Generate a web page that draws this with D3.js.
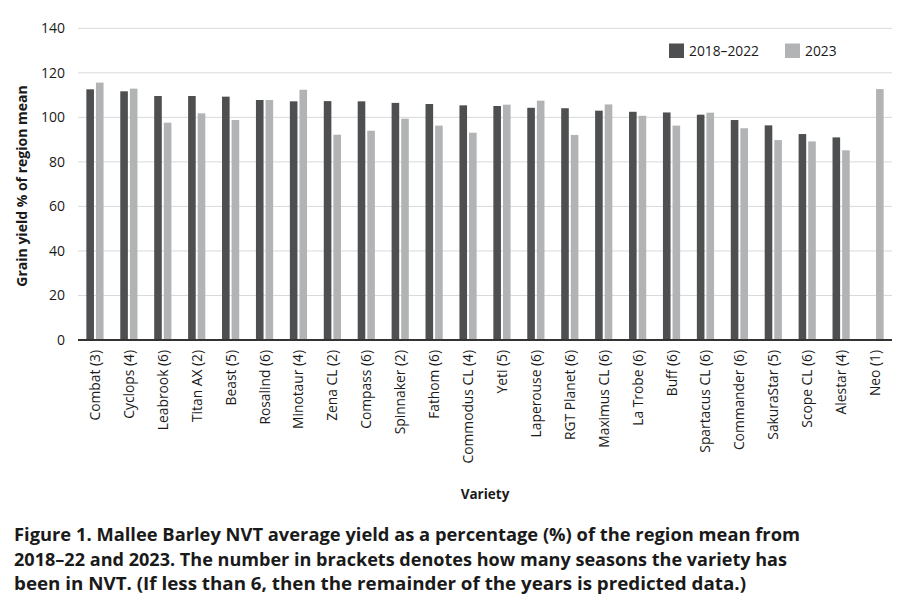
<!DOCTYPE html>
<html><head><meta charset="utf-8">
<script src="https://cdn.jsdelivr.net/npm/d3@7"></script>
<style>
body{margin:0;background:#fff;}
svg text{font-family:"Open Sans","Noto Sans",sans-serif;fill:#1a1a1a;}
</style></head>
<body><svg id="c" width="906" height="609"></svg>
<script>
const varieties = ["Combat (3)","Cyclops (4)","Leabrook (6)","Titan AX (2)","Beast (5)","Rosalind (6)","Minotaur (4)","Zena CL (2)","Compass (6)","Spinnaker (2)","Fathom (6)","Commodus CL (4)","Yeti (5)","Laperouse (6)","RGT Planet (6)","Maximus CL (6)","La Trobe (6)","Buff (6)","Spartacus CL (6)","Commander (6)","SakuraStar (5)","Scope CL (6)","Alestar (4)","Neo (1)"];
const series = ["2018–2022","2023"];
const yield1822 = [112.6,111.7,109.6,109.6,109.3,107.8,107.2,107.3,107.2,106.5,106.0,105.4,105.1,104.3,104.1,103.0,102.5,102.2,101.2,98.8,96.4,92.5,91.0,null];
const yield2023 = [115.6,112.9,97.6,101.8,98.8,107.8,112.4,92.2,94.0,99.4,96.3,93.1,105.7,107.5,92.1,105.8,100.7,96.3,102.1,95.1,89.8,89.2,85.2,112.7];
const yTicks = [0,20,40,60,80,100,120,140];
const colors = ["#4d4f51","#b1b3b5"];
const yTitle = "Grain yield % of region mean";
const xTitle = "Variety";
const caption = ["Figure 1. Mallee Barley NVT average yield as a percentage (%) of the region mean from",
"2018–22 and 2023. The number in brackets denotes how many seasons the variety has",
"been in NVT. (If less than 6, then the remainder of the years is predicted data.)"];

const svg = d3.select("#c");
const L=78, R=892, T=28.3, B=340;
const x = d3.scaleBand().domain(varieties).range([L,R]).paddingInner(0).paddingOuter(0);
const y = d3.scaleLinear().domain([0,140]).range([B,T]);
const bw = 7.6, gap = 2;

// grid
svg.append("g").selectAll("line").data(yTicks.filter(d=>d>0)).join("line")
  .attr("x1",L).attr("x2",R).attr("y1",d=>y(d)).attr("y2",d=>y(d))
  .attr("stroke","#d9d9d9").attr("stroke-width",1);

// y axis labels
const ya = svg.append("g").attr("transform",`translate(${L},0)`)
  .call(d3.axisLeft(y).tickValues(yTicks).tickSize(0).tickPadding(13));
ya.select(".domain").remove();
ya.selectAll("text").style("font-size","14px").style("font-family","'Open Sans',sans-serif").attr("fill","#1a1a1a");

// bars
const data = [];
varieties.forEach((v,i)=>{
  [yield1822[i], yield2023[i]].forEach((val,s)=>{ if(val!=null) data.push({v,s,val}); });
});
const cx = v => x(v)+x.bandwidth()/2;
svg.append("g").selectAll("rect").data(data).join("rect")
  .attr("x",d=> d.s===0 ? cx(d.v)-gap/2-bw : cx(d.v)+gap/2)
  .attr("y",d=>y(d.val)).attr("width",bw).attr("height",d=>B-y(d.val))
  .attr("fill",d=>colors[d.s]);

// baseline
svg.append("line").attr("x1",L).attr("x2",R).attr("y1",B).attr("y2",B)
  .attr("stroke","#333").attr("stroke-width",2);

// x labels
svg.append("g").selectAll("text").data(varieties).join("text")
  .attr("transform",d=>`translate(${cx(d)},350) rotate(-90)`)
  .attr("text-anchor","end").attr("dy","0.36em")
  .style("font-size","13.8px").text(d=>d);

// axis titles
svg.append("text").attr("transform","translate(27,186) rotate(-90)")
  .attr("text-anchor","middle").style("font-size","14px").style("font-weight","700").text(yTitle);
svg.append("text").attr("x",485).attr("y",499).attr("text-anchor","middle")
  .style("font-size","13.5px").style("font-weight","700").text(xTitle);

// legend
const lg = svg.append("g");
const lx = [669,785];
series.forEach((s,i)=>{
  lg.append("rect").attr("x",lx[i]).attr("y",43.5).attr("width",15).attr("height",14.5).attr("fill",colors[i]);
  lg.append("text").attr("x",lx[i]+20).attr("y",56).style("font-size","13.8px").text(s);
});

// caption
const capW = [786,773,732];
caption.forEach((c,i)=>{
  svg.append("text").attr("x",14).attr("y",541+i*24.5)
    .attr("textLength",capW[i]).attr("lengthAdjust","spacingAndGlyphs")
    .style("font-family","'Liberation Sans Narrow','Open Sans',sans-serif")
    .style("font-size","18.5px").style("font-weight","700").text(c);
});
</script></body></html>
